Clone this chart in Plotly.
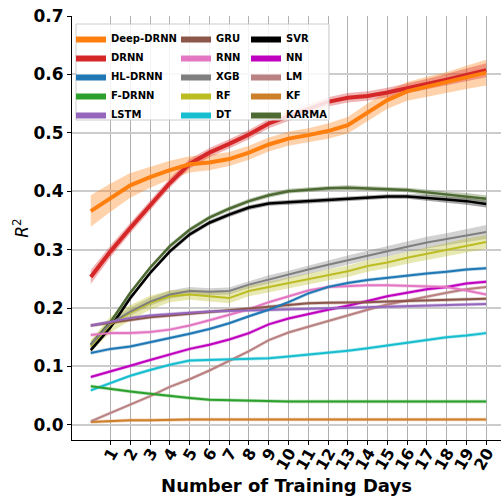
import plotly.graph_objects as go

days = list(range(0, 21))
tick_days = list(range(1, 21))
y_ticks = [0.0, 0.1, 0.2, 0.3, 0.4, 0.5, 0.6, 0.7]

names = ["Deep-DRNN", "DRNN", "HL-DRNN", "F-DRNN", "LSTM",
         "GRU", "RNN", "XGB", "RF", "DT",
         "SVR", "NN", "LM", "KF", "KARMA"]
colors = ["#ff7f0e", "#d62728", "#1f77b4", "#2ca02c", "#9467bd",
          "#8c564b", "#e377c2", "#7f7f7f", "#bcbd22", "#17becf",
          "#000000", "#bf00bf", "#b98181", "#cd7f2a", "#4e6a33"]

deep_drnn = [0.366, 0.389, 0.410, 0.424, 0.436, 0.446, 0.449, 0.455, 0.466, 0.480, 0.490,
             0.496, 0.503, 0.513, 0.535, 0.556, 0.571, 0.579, 0.586, 0.595, 0.603]
drnn = [0.253, 0.297, 0.337, 0.376, 0.414, 0.447, 0.466, 0.481, 0.497, 0.516, 0.528,
        0.540, 0.553, 0.560, 0.563, 0.569, 0.576, 0.583, 0.591, 0.599, 0.607]
hl_drnn = [0.123, 0.130, 0.134, 0.141, 0.149, 0.156, 0.164, 0.174, 0.186, 0.197, 0.210,
           0.225, 0.236, 0.243, 0.248, 0.252, 0.256, 0.259, 0.262, 0.266, 0.268]
f_drnn = [0.066, 0.061, 0.057, 0.053, 0.049, 0.046, 0.043, 0.042, 0.041, 0.040, 0.040,
          0.040, 0.040, 0.040, 0.041, 0.041, 0.041, 0.041, 0.040, 0.040, 0.040]
lstm = [0.170, 0.177, 0.183, 0.187, 0.190, 0.192, 0.194, 0.195, 0.196, 0.197, 0.198,
        0.199, 0.200, 0.201, 0.202, 0.203, 0.204, 0.205, 0.206, 0.207, 0.207]
gru = [0.170, 0.175, 0.180, 0.184, 0.187, 0.190, 0.193, 0.196, 0.199, 0.202, 0.206,
       0.208, 0.209, 0.209, 0.210, 0.211, 0.212, 0.213, 0.214, 0.215, 0.216]
rnn = [0.154, 0.157, 0.157, 0.159, 0.163, 0.170, 0.179, 0.189, 0.198, 0.210, 0.220,
       0.230, 0.236, 0.238, 0.239, 0.239, 0.238, 0.237, 0.236, 0.230, 0.223]
xgb = [0.137, 0.174, 0.194, 0.211, 0.223, 0.229, 0.228, 0.229, 0.240, 0.249, 0.257,
       0.266, 0.274, 0.282, 0.290, 0.297, 0.305, 0.312, 0.318, 0.324, 0.330]
rf = [0.135, 0.172, 0.192, 0.209, 0.220, 0.223, 0.220, 0.217, 0.229, 0.236, 0.243,
      0.249, 0.256, 0.263, 0.272, 0.278, 0.286, 0.293, 0.300, 0.307, 0.313]
dt = [0.059, 0.071, 0.084, 0.094, 0.103, 0.110, 0.111, 0.111, 0.113, 0.114, 0.117,
      0.120, 0.123, 0.127, 0.131, 0.136, 0.141, 0.146, 0.150, 0.153, 0.157]
svr = [0.128, 0.167, 0.217, 0.260, 0.297, 0.326, 0.346, 0.360, 0.372, 0.379, 0.381,
       0.383, 0.386, 0.388, 0.389, 0.391, 0.391, 0.389, 0.386, 0.383, 0.378]
nn = [0.082, 0.091, 0.101, 0.111, 0.121, 0.130, 0.137, 0.146, 0.157, 0.172, 0.182,
      0.190, 0.197, 0.204, 0.212, 0.220, 0.226, 0.232, 0.236, 0.242, 0.245]
lm = [0.006, 0.020, 0.034, 0.049, 0.065, 0.078, 0.093, 0.109, 0.126, 0.145, 0.158,
      0.168, 0.178, 0.188, 0.197, 0.206, 0.213, 0.220, 0.226, 0.232, 0.236]
kf = [0.005, 0.007, 0.008, 0.008, 0.009, 0.009, 0.009, 0.009, 0.009, 0.009, 0.009,
      0.009, 0.009, 0.009, 0.009, 0.009, 0.009, 0.009, 0.009, 0.009, 0.009]
karma = [0.137, 0.176, 0.226, 0.269, 0.306, 0.334, 0.355, 0.370, 0.383, 0.393, 0.400,
         0.403, 0.405, 0.406, 0.405, 0.404, 0.402, 0.398, 0.394, 0.391, 0.387]

# half-widths of the shaded bands
deep_drnn_sd = [0.027, 0.024, 0.021, 0.018, 0.016, 0.014, 0.013, 0.012, 0.012, 0.012, 0.012,
                0.012, 0.013, 0.014, 0.015, 0.015, 0.016, 0.017, 0.018, 0.020, 0.022]
drnn_sd = [0.012, 0.010, 0.009, 0.008, 0.008, 0.008, 0.008, 0.008, 0.008, 0.008, 0.008,
           0.008, 0.008, 0.008, 0.008, 0.008, 0.008, 0.009, 0.010, 0.011, 0.012]
xgb_sd = [0.006, 0.007, 0.007, 0.007, 0.007, 0.007, 0.006, 0.006, 0.006, 0.007, 0.007,
          0.007, 0.008, 0.008, 0.008, 0.009, 0.009, 0.010, 0.010, 0.011, 0.012]
rf_sd = [0.010, 0.014, 0.013, 0.012, 0.010, 0.009, 0.009, 0.009, 0.009, 0.009, 0.009,
         0.009, 0.009, 0.010, 0.010, 0.010, 0.010, 0.011, 0.011, 0.012, 0.012]
svr_sd = [0.004, 0.004, 0.004, 0.004, 0.004, 0.004, 0.004, 0.004, 0.004, 0.004, 0.004,
          0.004, 0.004, 0.004, 0.004, 0.004, 0.004, 0.005, 0.005, 0.006, 0.006]
karma_sd = [0.004, 0.004, 0.004, 0.004, 0.004, 0.004, 0.004, 0.004, 0.004, 0.004, 0.004,
            0.004, 0.004, 0.004, 0.004, 0.004, 0.004, 0.005, 0.005, 0.006, 0.006]
small_sd = [0.003] * 21

means = [deep_drnn, drnn, hl_drnn, f_drnn, lstm, gru, rnn, xgb, rf, dt,
         svr, nn, lm, kf, karma]
sds = [deep_drnn_sd, drnn_sd, small_sd, small_sd, small_sd, small_sd, small_sd,
       xgb_sd, rf_sd, small_sd, svr_sd, small_sd, small_sd, small_sd, karma_sd]
widths = [4, 4, 2, 2, 2, 2, 2, 2, 2, 2, 2.5, 2, 2, 2, 2.5]
legend_ids = ["legend"] * 5 + ["legend2"] * 5 + ["legend3"] * 5


def rgba(hexc, a):
    h = hexc.lstrip("#")
    r, g, b = int(h[0:2], 16), int(h[2:4], 16), int(h[4:6], 16)
    return f"rgba({r},{g},{b},{a})"


fig = go.Figure()

# shaded bands
for name, col, m, s in zip(names, colors, means, sds):
    lo = [v - e for v, e in zip(m, s)]
    hi = [v + e for v, e in zip(m, s)]
    fig.add_trace(go.Scatter(x=days, y=lo, mode="lines", line=dict(width=0),
                             showlegend=False, hoverinfo="skip"))
    fig.add_trace(go.Scatter(x=days, y=hi, mode="lines", line=dict(width=0),
                             fill="tonexty", fillcolor=rgba(col, 0.35),
                             showlegend=False, hoverinfo="skip"))

# mean lines (drawn in reverse so Deep-DRNN / DRNN sit on top)
for name, col, m, w in reversed(list(zip(names, colors, means, widths))):
    fig.add_trace(go.Scatter(x=days, y=m, mode="lines", name=name,
                             line=dict(color=col, width=w), showlegend=False))

# legend swatches (filled patches like the reference)
for name, col, lg in zip(names, colors, legend_ids):
    fig.add_trace(go.Scatter(x=[None], y=[None], mode="lines", name=name,
                             fill="toself", fillcolor=col, line=dict(width=0, color=col),
                             legend=lg, showlegend=True))

L, T, B, R = 72, 16, 59, 0
W, H = 501, 499
pw, ph = W - L - R, H - T - B


def px_x(px):
    return (px - L) / pw


def px_y(py):
    return (H - B - py) / ph


leg_font = dict(family="DejaVu Sans", size=10, color="black", weight="bold")
common = dict(bgcolor="rgba(0,0,0,0)", borderwidth=0, font=leg_font,
              xanchor="left", yanchor="top", orientation="v", traceorder="normal")
leg_top = px_y(24)
fig.update_layout(
    legend=dict(x=px_x(71), y=leg_top, **common),
    legend2=dict(x=px_x(176), y=leg_top, **common),
    legend3=dict(x=px_x(246), y=leg_top, **common),
)

fig.add_shape(type="rect", xref="paper", yref="paper",
              x0=px_x(76), x1=px_x(329), y0=px_y(24), y1=px_y(120),
              fillcolor="rgba(255,255,255,0.85)", line=dict(color="#cccccc", width=1),
              layer="above")

fig.update_layout(
    width=W, height=H,
    margin=dict(l=L, r=R, t=T, b=B),
    paper_bgcolor="white", plot_bgcolor="white",
    font=dict(family="DejaVu Sans", color="black"),
    xaxis=dict(
        range=[-0.95, 20.75], tickvals=tick_days, ticktext=[str(d) for d in tick_days],
        tickangle=-60, tickfont=dict(size=16, weight="bold"),
        ticks="outside", ticklen=4, tickcolor="black",
        showgrid=True, gridcolor="#b0b0b0", gridwidth=1,
        showline=True, linecolor="black", linewidth=1.2, mirror=False,
        zeroline=False, ticklabelshift=1, ticklabelstandoff=-8,
        ticklabeloverflow="allow", automargin=False,
        title=dict(text="Number of Training Days", font=dict(size=18, weight="bold"), standoff=6),
    ),
    yaxis=dict(
        range=[-0.026, 0.70], tickvals=y_ticks, tickformat=".1f",
        tickfont=dict(size=17, weight="bold"),
        ticks="outside", ticklen=4, tickcolor="black",
        showgrid=True, gridcolor="#cccccc", gridwidth=1.5,
        showline=True, linecolor="black", linewidth=1.2,
        zeroline=False, automargin=False,
        title=dict(text="<i>R</i><sup>2</sup>", font=dict(size=17), standoff=0),
    ),
)

fig.write_html("out.html")
